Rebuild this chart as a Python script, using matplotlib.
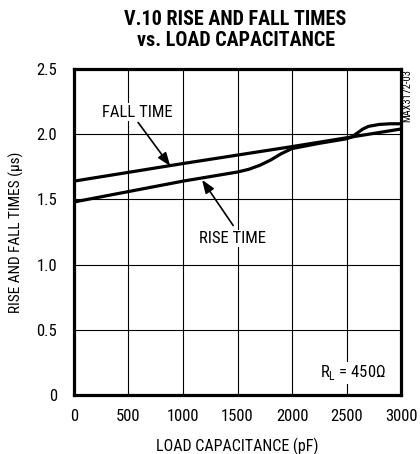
"""V.10 rise and fall times vs load capacitance"""

import matplotlib
matplotlib.use("Agg")
import matplotlib.pyplot as plt

plt.rcParams['font.family'] = ['Roboto Condensed', 'DejaVu Sans']
plt.rcParams['mathtext.fontset'] = 'custom'
plt.rcParams['mathtext.rm'] = 'Roboto Condensed'

# values
cap_rise = [0, 250, 500, 750, 1000, 1250, 1500, 1600, 1700, 1800, 1900, 2000,
            2250, 2500, 2550, 2600, 2650, 2700, 2800, 2900, 3000]
t_rise = [1.48, 1.52, 1.56, 1.60, 1.64, 1.675, 1.71, 1.73, 1.76, 1.80, 1.85, 1.89,
          1.93, 1.965, 1.98, 2.01, 2.04, 2.06, 2.075, 2.08, 2.08]
cap_fall = [0, 1000, 2000, 3000]
t_fall = [1.64, 1.775, 1.905, 2.04]

x_ticks = [0, 500, 1000, 1500, 2000, 2500, 3000]
y_ticks = [0, 0.5, 1.0, 1.5, 2.0, 2.5]
y_labels = ['0', '0.5', '1.0', '1.5', '2.0', '2.5']

fs = 12

fig = plt.figure(figsize=(4.2, 4.54), dpi=100)
ax = fig.add_axes([0.176, 0.130, 0.779, 0.718])

ax.plot(cap_fall, t_fall, color='black', lw=2.3, solid_capstyle='butt')
ax.plot(cap_rise, t_rise, color='black', lw=2.3, solid_capstyle='butt')

ax.set_xlim(0, 3000)
ax.set_ylim(0, 2.5)
ax.set_xticks(x_ticks)
ax.set_yticks(y_ticks)
ax.set_yticklabels(y_labels)
ax.tick_params(length=0, labelsize=fs)
ax.tick_params(axis='y', pad=12)
ax.tick_params(axis='x', pad=10)
ax.grid(True, color='black', lw=0.8)
for s in ax.spines.values():
    s.set_linewidth(2.3)

ax.set_xlabel('LOAD CAPACITANCE (pF)', fontsize=11.5, labelpad=10)
ax.set_ylabel('RISE AND FALL TIMES (µs)', fontsize=11, labelpad=9)

arrow = dict(arrowstyle='-|>,head_length=0.8,head_width=0.3', color='black', lw=1.2,
             shrinkA=0, shrinkB=0)
ax.annotate('', xy=(883, 1.756), xytext=(589, 2.09), arrowprops=arrow)
ax.text(580, 2.17, 'FALL TIME', ha='center', va='center', fontsize=fs,
        bbox=dict(facecolor='white', edgecolor='none', pad=1))
ax.annotate('', xy=(1175, 1.65), xytext=(1460, 1.30), arrowprops=arrow)
ax.text(1451, 1.20, 'RISE TIME', ha='center', va='center', fontsize=fs,
        bbox=dict(facecolor='white', edgecolor='none', pad=1))

ax.text(2860, 0.17, r'R$_\mathregular{L}$ = 450Ω', ha='right', va='center', fontsize=fs,
        bbox=dict(facecolor='white', edgecolor='none', pad=1))

fig.text(0.958, 0.848, 'MAX3172-03', rotation=90, ha='left', va='top', fontsize=7.5)

fig.text(0.561, 0.958, 'V.10 RISE AND FALL TIMES', ha='center', va='center',
         fontsize=14.5, fontweight='bold')
fig.text(0.561, 0.910, 'vs. LOAD CAPACITANCE', ha='center', va='center',
         fontsize=14.5, fontweight='bold')

fig.savefig('out.png', dpi=100)
